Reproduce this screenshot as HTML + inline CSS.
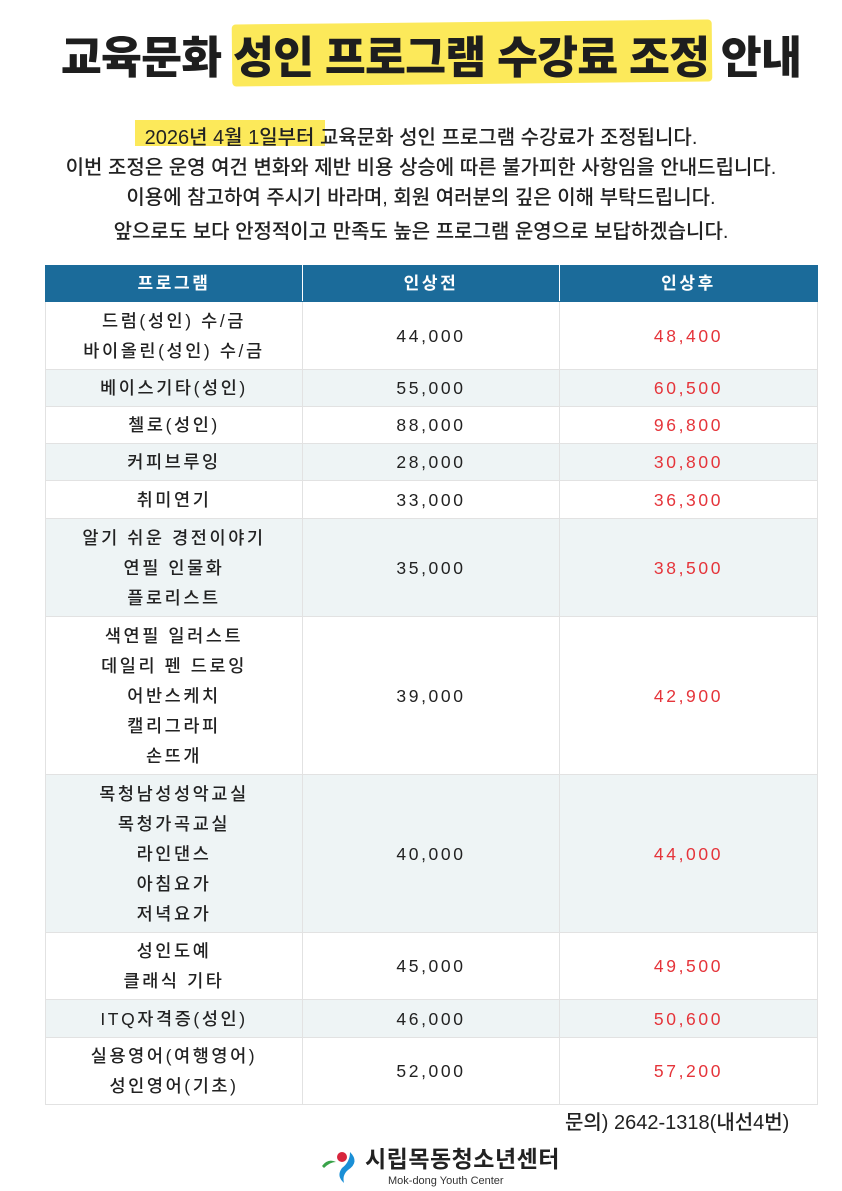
<!DOCTYPE html>
<html><head><meta charset="utf-8"><style>
body{margin:0;width:842px;height:1191px;background:#fff;position:relative;font-family:"Liberation Sans","Noto Sans CJK KR",sans-serif;color:#222;overflow:hidden}
.t{position:absolute;left:0;width:842px;text-align:center;white-space:nowrap}
h1{position:absolute;left:0;top:21px;width:842px;text-align:center;margin:0;font-size:44.5px;font-weight:900;letter-spacing:-0.8px;color:#1e1e1e;padding-left:20px;box-sizing:border-box}
.hl{position:absolute;background:#fce95a}
.sub{font-size:20px;font-weight:500;color:#222;letter-spacing:0px}
table{position:absolute;left:45px;top:265px;width:772px;border-collapse:collapse;table-layout:fixed}
td,th{border:1px solid #e2e2e2;text-align:center;font-size:17.5px;letter-spacing:2.6px;line-height:30px;padding:0;font-weight:500}
th{background:#1b6b9a;color:#fff;font-weight:700;height:35px;border-color:#1b6b9a;border-right:1px solid #fff;font-size:17px}
tr:nth-child(odd) td{background:#eef4f5}
td.r{color:#e5343a}
</style></head><body>
<div class="hl" style="left:232px;top:22px;width:480px;height:62px;transform:rotate(-0.6deg);border-radius:4px"></div>
<h1>교육문화 성인 프로그램 수강료 조정 안내</h1>
<div class="hl" style="left:135px;top:120px;width:190px;height:26px"></div>
<div class="t sub" style="top:121px">2026년 4월 1일부터 교육문화 성인 프로그램 수강료가 조정됩니다.</div>
<div class="t sub" style="top:151px">이번 조정은 운영 여건 변화와 제반 비용 상승에 따른 불가피한 사항임을 안내드립니다.</div>
<div class="t sub" style="top:181px">이용에 참고하여 주시기 바라며, 회원 여러분의 깊은 이해 부탁드립니다.</div>
<div class="t sub" style="top:215px">앞으로도 보다 안정적이고 만족도 높은 프로그램 운영으로 보답하겠습니다.</div>
<table>
<colgroup><col style="width:257px"><col style="width:257px"><col style="width:258px"></colgroup>
<tr><th>프로그램</th><th>인상전</th><th style="border-right-color:#1b6b9a">인상후</th></tr>
<tr style="height:68px"><td>드럼(성인) 수/금<br>바이올린(성인) 수/금</td><td>44,000</td><td class="r">48,400</td></tr>
<tr style="height:37px"><td>베이스기타(성인)</td><td>55,000</td><td class="r">60,500</td></tr>
<tr style="height:37px"><td>첼로(성인)</td><td>88,000</td><td class="r">96,800</td></tr>
<tr style="height:37px"><td>커피브루잉</td><td>28,000</td><td class="r">30,800</td></tr>
<tr style="height:38px"><td>취미연기</td><td>33,000</td><td class="r">36,300</td></tr>
<tr style="height:98px"><td>알기 쉬운 경전이야기<br>연필 인물화<br>플로리스트</td><td>35,000</td><td class="r">38,500</td></tr>
<tr style="height:158px"><td>색연필 일러스트<br>데일리 펜 드로잉<br>어반스케치<br>캘리그라피<br>손뜨개</td><td>39,000</td><td class="r">42,900</td></tr>
<tr style="height:158px"><td>목청남성성악교실<br>목청가곡교실<br>라인댄스<br>아침요가<br>저녁요가</td><td>40,000</td><td class="r">44,000</td></tr>
<tr style="height:67px"><td>성인도예<br>클래식 기타</td><td>45,000</td><td class="r">49,500</td></tr>
<tr style="height:38px"><td>ITQ자격증(성인)</td><td>46,000</td><td class="r">50,600</td></tr>
<tr style="height:67px"><td>실용영어(여행영어)<br>성인영어(기초)</td><td>52,000</td><td class="r">57,200</td></tr>
</table>
<div style="position:absolute;left:565px;top:1106px;font-size:20px;font-weight:500">문의) 2642-1318(내선4번)</div>
<svg style="position:absolute;left:320px;top:1148px" width="40" height="36" viewBox="0 0 40 36">
<path d="M2 18 Q8 10 16 14 Q10 14 4 20Z" fill="#3aa34a"/>
<circle cx="22" cy="9" r="5" fill="#d7263d"/>
<path d="M30 4 Q40 14 28 22 Q22 27 24 35 Q16 28 22 20 Q30 14 30 4Z" fill="#1a8fd6"/>
</svg>
<div style="position:absolute;left:365px;top:1145px;font-size:23px;font-weight:700;letter-spacing:0.5px;line-height:28px">시립목동청소년센터</div>
<div style="position:absolute;left:388px;top:1175px;font-size:11px;color:#333;line-height:13px">Mok-dong Youth Center</div>
</body></html>
